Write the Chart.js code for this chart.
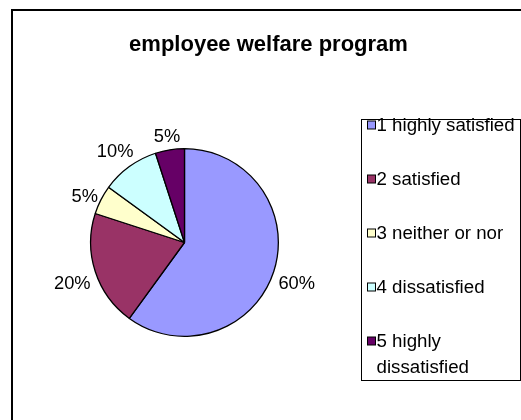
<!DOCTYPE html>
<html>
<head>
<meta charset="utf-8">
<script src="https://cdn.jsdelivr.net/npm/chart.js@4.4.1/dist/chart.umd.min.js"></script>
<style>
  html, body { margin: 0; padding: 0; background: #ffffff; }
  #wrap { width: 521px; height: 420px; position: relative; }
</style>
</head>
<body>
<div id="wrap"><canvas id="c" width="521" height="420"></canvas></div>
<script>
// Survey answers, share of respondents in percent
const chartTitle = 'employee welfare program';
const categories = ['1 highly satisfied', '2 satisfied', '3 neither or nor', '4 dissatisfied', '5 highly dissatisfied'];
const shares = [60, 20, 5, 10, 5];
const sliceColors = ['#9999FF', '#993366', '#FFFFCC', '#CCFFFF', '#660066'];

const FONT = '"Liberation Sans", Arial, sans-serif';

// Frame, title, percentage labels and the boxed legend
const decorations = {
  id: 'decorations',
  beforeDraw(chart) {
    const ctx = chart.ctx;
    ctx.save();
    ctx.fillStyle = '#ffffff';
    ctx.fillRect(0, 0, chart.width, chart.height);
    ctx.restore();
  },
  afterDraw(chart) {
    const ctx = chart.ctx;
    ctx.save();

    // outer chart frame
    ctx.strokeStyle = '#000000';
    ctx.lineWidth = 2;
    ctx.beginPath();
    ctx.moveTo(12, 430);
    ctx.lineTo(12, 10);
    ctx.lineTo(530, 10);
    ctx.stroke();

    // title
    ctx.fillStyle = '#000000';
    ctx.font = 'bold 22px ' + FONT;
    ctx.textAlign = 'center';
    ctx.textBaseline = 'alphabetic';
    ctx.fillText(chartTitle, 268.5, 50.5);

    // percentage labels outside each slice
    const meta = chart.getDatasetMeta(0);
    ctx.font = '18.3px ' + FONT;
    ctx.textAlign = 'center';
    meta.data.forEach((arc, i) => {
      const p = arc.getProps(['x', 'y', 'startAngle', 'endAngle', 'outerRadius'], true);
      const mid = (p.startAngle + p.endAngle) / 2;
      const txt = shares[i] + '%';
      const w = ctx.measureText(txt).width;
      const d = p.outerRadius + 2.2 + 0.6 * w;
      const cx = p.x + d * Math.cos(mid);
      const cy = p.y + d * Math.sin(mid) + 3.5;
      ctx.fillText(txt, cx, cy + 6.4);
    });

    // legend box
    const lx = 361.5, ly = 119.5, lw = 159, lh = 261;
    ctx.lineWidth = 1;
    ctx.strokeStyle = '#000000';
    ctx.strokeRect(lx, ly, lw, lh);

    ctx.font = '18.7px ' + FONT;
    ctx.textAlign = 'left';
    const textX = 376.5;
    const maxW = lx + lw - textX - 1;
    categories.forEach((label, i) => {
      const base = 130.5 + 54 * i;
      // wrap long labels by words
      const words = label.split(' ');
      const lines = [];
      let cur = '';
      words.forEach(wd => {
        const test = cur ? cur + ' ' + wd : wd;
        if (ctx.measureText(test).width > maxW && cur) {
          lines.push(cur);
          cur = wd;
        } else {
          cur = test;
        }
      });
      lines.push(cur);

      ctx.fillStyle = sliceColors[i];
      ctx.fillRect(367.5, base - 9.5, 8, 8);
      ctx.strokeStyle = '#000000';
      ctx.strokeRect(367.5, base - 9.5, 8, 8);

      ctx.fillStyle = '#000000';
      lines.forEach((ln, k) => ctx.fillText(ln, textX, base + 26 * k));
    });

    ctx.restore();
  }
};

new Chart(document.getElementById('c'), {
  type: 'pie',
  data: {
    labels: categories,
    datasets: [{
      data: shares,
      backgroundColor: sliceColors,
      borderColor: '#000000',
      borderWidth: 1.3
    }]
  },
  options: {
    responsive: false,
    animation: false,
    events: [],
    rotation: 0,
    layout: { padding: { left: 90, top: 148, right: 242, bottom: 83 } },
    plugins: {
      legend: { display: false },
      title: { display: false },
      tooltip: { enabled: false }
    }
  },
  plugins: [decorations]
});
</script>
</body>
</html>
